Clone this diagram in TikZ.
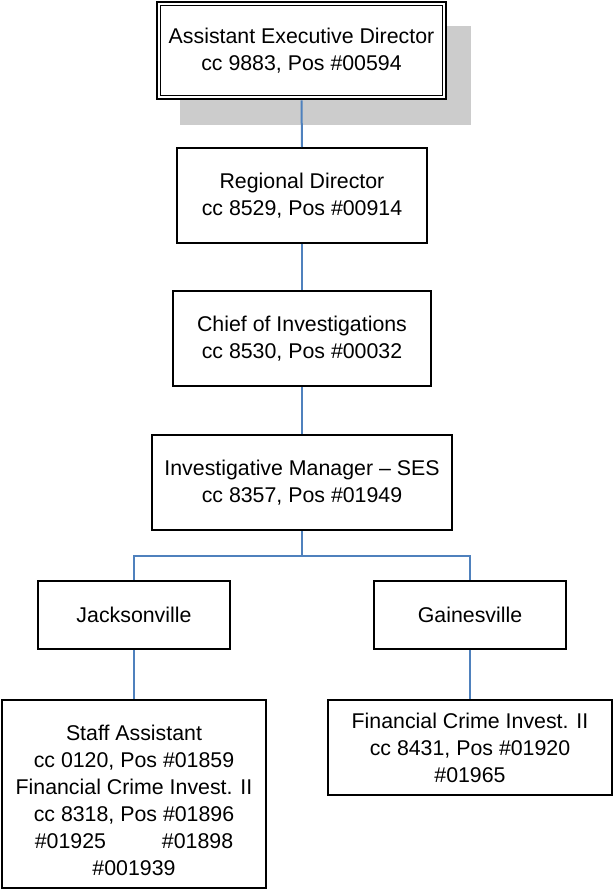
\documentclass[tikz,border=0pt]{standalone}
\usepackage{fontspec}
\setmainfont{Liberation Sans}
\usetikzlibrary{backgrounds}
\begin{document}
\begin{tikzpicture}[x=0.75pt,y=-0.75pt,
  box/.style={draw=black,line width=1.5pt,fill=white,inner sep=0pt,align=center,
    font=\fontsize{16}{20.25}\selectfont},
  conn/.style={draw={rgb,255:red,79;green,129;blue,189},line width=1.5pt}]
\useasboundingbox (0,0) rectangle (613,892);
\definecolor{shadowgray}{RGB}{204,204,204}

% top position: double frame with a grey drop shadow behind it
\node[box,line width=2.2pt,minimum width=216.75pt,minimum height=72.75pt] (aed) at (301.5,50.5)
  {Assistant Executive Director\\cc 9883, Pos \#00594};
\draw[line width=1pt] ([shift={(5,5)}]aed.north west) rectangle ([shift={(-5,-5)}]aed.south east);
\begin{pgfonlayer}{background}
  \fill[shadowgray] ([shift={(24,25)}]aed.north west) rectangle ([shift={(24,25)}]aed.south east);
\end{pgfonlayer}

\node[box,minimum width=187.5pt,minimum height=71.25pt] (rd) at (302,195.5)
  {Regional Director\\cc 8529, Pos \#00914};
\node[box,minimum width=193.5pt,minimum height=71.25pt] (chief) at (302,338.5)
  {Chief of Investigations\\cc 8530, Pos \#00032};
\node[box,minimum width=225pt,minimum height=71.25pt] (im) at (302,482.5)
  {Investigative Manager -- SES\\cc 8357, Pos \#01949};
\node[box,minimum width=144pt,minimum height=51pt] (jax) at (134,615)
  {Jacksonville};
\node[box,minimum width=144pt,minimum height=51pt] (gnv) at (470,615)
  {Gainesville};
\node[box,minimum width=198pt,minimum height=141pt] (staff) at (134,794)
  {\rule{0pt}{20.5pt}Staff Assistant\\cc 0120, Pos \#01859\\Financial Crime Invest. II\\cc 8318, Pos \#01896\\
   \#01925\hspace{42pt}\#01898\\\#001939};
\node[box,minimum width=213pt,minimum height=71.25pt] (fci) at (470,747.5)
  {Financial Crime Invest. II\\cc 8431, Pos \#01920\\\#01965};

% reporting lines
\coordinate (bus) at (302,556);
\draw[conn] (aed.south) -- (rd.north);
\draw[conn] (rd.south) -- (chief.north);
\draw[conn] (chief.south) -- (im.north);
\draw[conn] (im.south) -- (bus) -| (jax.north);
\draw[conn] (bus) -| (gnv.north);
\draw[conn] (jax.south) -- (staff.north);
\draw[conn] (gnv.south) -- (fci.north);
\end{tikzpicture}
\end{document}
